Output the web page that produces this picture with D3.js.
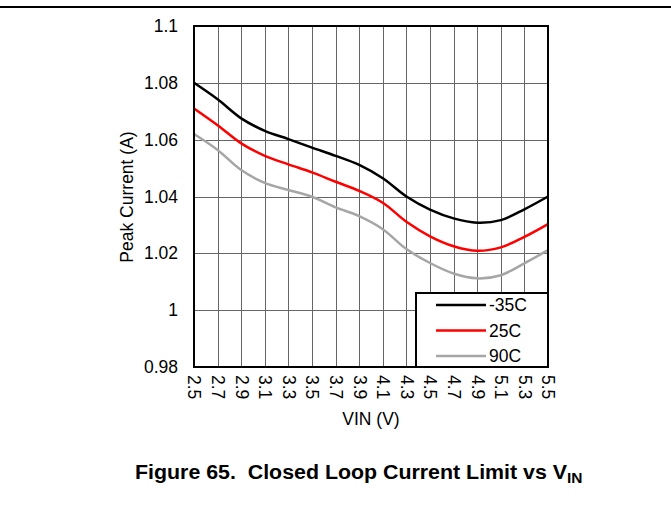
<!DOCTYPE html>
<html>
<head>
<meta charset="utf-8">
<script src="https://cdn.jsdelivr.net/npm/d3@7"></script>
<style>
  html, body { margin: 0; padding: 0; background: #fff; }
  svg { display: block; font-family: "Liberation Sans", Arial, sans-serif; }
</style>
</head>
<body>
<svg id="chart" width="671" height="521"></svg>
<script>
const vin = [2.5, 2.7, 2.9, 3.1, 3.3, 3.5, 3.7, 3.9, 4.1, 4.3, 4.5, 4.7, 4.9, 5.1, 5.3, 5.5];
const seriesNames = ["-35C", "25C", "90C"];
const seriesColors = ["#000000", "#ff0000", "#a6a6a6"];
const currentM35 = [1.080, 1.0742, 1.0675, 1.0631, 1.0602, 1.0572, 1.0543, 1.0511, 1.0464, 1.0400, 1.0354, 1.0323, 1.0308, 1.0317, 1.0355, 1.0400];
const current25 = [1.071, 1.0651, 1.0587, 1.0543, 1.0513, 1.0485, 1.0452, 1.0420, 1.0378, 1.0311, 1.0260, 1.0225, 1.0209, 1.0221, 1.0258, 1.0303];
const current90 = [1.062, 1.0564, 1.0493, 1.0448, 1.0423, 1.0399, 1.0362, 1.0331, 1.0285, 1.0215, 1.0166, 1.0129, 1.0112, 1.0123, 1.0165, 1.0211];
const yTicks = [0.98, 1, 1.02, 1.04, 1.06, 1.08, 1.1];
const xTicks = [2.5, 2.7, 2.9, 3.1, 3.3, 3.5, 3.7, 3.9, 4.1, 4.3, 4.5, 4.7, 4.9, 5.1, 5.3, 5.5];

const FS = 17.5;
const svg = d3.select("#chart");
const L = 194, R = 548, T = 26, B = 367;

// top rule
svg.append("line").attr("x1", 0).attr("x2", 671).attr("y1", 7).attr("y2", 7)
  .attr("stroke", "#000").attr("stroke-width", 2);

const x = d3.scaleLinear().domain([2.5, 5.5]).range([L, R]);
const y = d3.scaleLinear().domain([0.98, 1.1]).range([B, T]);

// grid
const grid = svg.append("g");
grid.selectAll(".vg").data(xTicks).join("line")
  .attr("x1", d => Math.round(x(d)) + 0.5).attr("x2", d => Math.round(x(d)) + 0.5)
  .attr("y1", T).attr("y2", B).attr("stroke", "#666").attr("stroke-width", 1);
grid.selectAll(".hg").data(yTicks).join("line")
  .attr("y1", d => Math.round(y(d)) + 0.5).attr("y2", d => Math.round(y(d)) + 0.5)
  .attr("x1", L).attr("x2", R).attr("stroke", "#666").attr("stroke-width", 1);

// y axis labels
const yAxis = d3.axisLeft(y).tickValues(yTicks).tickSize(0).tickPadding(16)
  .tickFormat(d => String(+d.toFixed(2)));
const gy = svg.append("g").attr("transform", `translate(${L},0)`).call(yAxis);
gy.select(".domain").remove();
gy.selectAll("text").attr("font-size", FS).attr("font-family", "Liberation Sans, Arial, sans-serif").attr("fill", "#000");

// x axis labels rotated
const xAxis = d3.axisBottom(x).tickValues(xTicks).tickSize(0).tickFormat(d3.format(".1f"));
const gx = svg.append("g").attr("transform", `translate(0,${B})`).call(xAxis);
gx.select(".domain").remove();
gx.selectAll("text")
  .attr("font-size", FS).attr("font-family", "Liberation Sans, Arial, sans-serif").attr("fill", "#000")
  .attr("transform", "rotate(90)")
  .attr("x", 8).attr("y", 0).attr("dy", "0.35em")
  .attr("text-anchor", "start");

// lines
const allSeries = [currentM35, current25, current90];
const line = d3.line().x((d, i) => x(vin[i])).y(d => y(d)).curve(d3.curveCatmullRom.alpha(0.5));
svg.append("g").selectAll("path").data(allSeries).join("path")
  .attr("d", d => line(d)).attr("fill", "none")
  .attr("stroke", (d, i) => seriesColors[i]).attr("stroke-width", 2.5);

// border
svg.append("rect").attr("x", L).attr("y", T).attr("width", R - L).attr("height", B - T)
  .attr("fill", "none").attr("stroke", "#000").attr("stroke-width", 2);

// legend
const lg = svg.append("g");
lg.append("rect").attr("x", 416).attr("y", 293).attr("width", R - 416).attr("height", B - 293)
  .attr("fill", "#fff").attr("stroke", "#000").attr("stroke-width", 2);
seriesNames.forEach((n, i) => {
  const yy = 305 + i * 25.5;
  lg.append("line").attr("x1", 436).attr("x2", 486).attr("y1", yy).attr("y2", yy)
    .attr("stroke", seriesColors[i]).attr("stroke-width", 2.5);
  lg.append("text").attr("x", 489).attr("y", yy).attr("dy", "0.35em")
    .attr("font-size", FS).attr("fill", "#000").text(n);
});

// axis titles
svg.append("text").attr("x", 371).attr("y", 425).attr("text-anchor", "middle")
  .attr("font-size", FS).text("VIN (V)");
svg.append("text").attr("transform", "translate(133,197) rotate(-90)").attr("text-anchor", "middle")
  .attr("font-size", FS).text("Peak Current (A)");

// caption
const cap = svg.append("text").attr("x", 135).attr("y", 479)
  .attr("font-size", 20).attr("font-weight", "bold").attr("fill", "#000");
cap.append("tspan").attr("textLength", 432).attr("lengthAdjust", "spacingAndGlyphs")
  .text("Figure 65.\u00a0\u00a0Closed Loop Current Limit vs V");
cap.append("tspan").attr("font-size", 15.5).attr("dy", 4).text("IN");
</script>
</body>
</html>
